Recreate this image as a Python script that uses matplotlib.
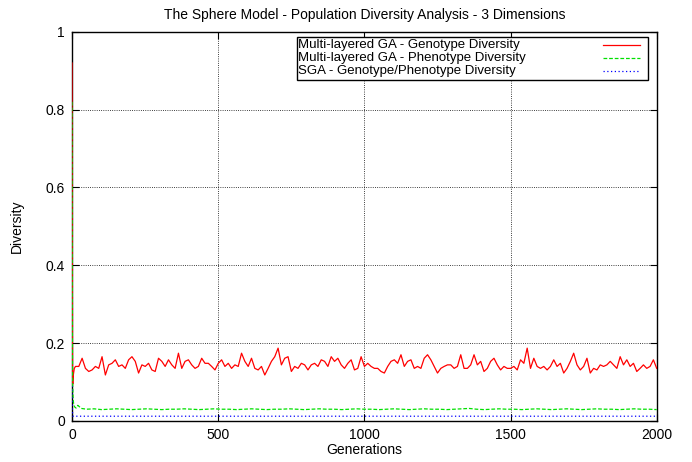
import numpy as np
import matplotlib
matplotlib.use("Agg")
import matplotlib.pyplot as plt
from matplotlib.patches import Rectangle

plt.rcParams['font.family'] = ['Liberation Sans', 'DejaVu Sans']

# ---- data ----
# first generations (the initial drop)
red_early_gen = [0, 1, 2, 3, 5, 8]
red_early = [0.92, 0.45, 0.10, 0.095, 0.12, 0.135]

# Multi-layered GA genotype diversity, sampled every ~11 generations from gen 12
red_vals = [
    0.140, 0.140, 0.161, 0.135, 0.127, 0.131, 0.140, 0.135, 0.165, 0.118, 0.144, 0.148, 0.157, 0.140, 0.144,
    0.135, 0.157, 0.165, 0.153, 0.123, 0.144, 0.140, 0.148, 0.131, 0.127, 0.161, 0.153, 0.140, 0.157, 0.144,
    0.135, 0.174, 0.135, 0.153, 0.157, 0.144, 0.135, 0.140, 0.161, 0.148, 0.148, 0.140, 0.131, 0.148,
    0.157, 0.140, 0.148, 0.135, 0.144, 0.140, 0.174, 0.153, 0.140, 0.161, 0.135, 0.131, 0.140, 0.118, 0.135,
    0.153, 0.165, 0.187, 0.144, 0.161, 0.165, 0.127, 0.140, 0.135, 0.148, 0.144, 0.131, 0.144, 0.148, 0.140,
    0.157, 0.153, 0.140, 0.165, 0.153, 0.161, 0.144, 0.135, 0.148, 0.157, 0.131, 0.135, 0.165, 0.140,
    0.148, 0.140, 0.135, 0.135, 0.127, 0.123, 0.140, 0.153, 0.157, 0.148, 0.170, 0.140, 0.153, 0.157, 0.135,
    0.140, 0.135, 0.161, 0.170, 0.157, 0.140, 0.123, 0.135, 0.140, 0.144, 0.144, 0.135, 0.140, 0.170, 0.135,
    0.135, 0.144, 0.170, 0.144, 0.153, 0.127, 0.135, 0.153, 0.161, 0.144, 0.131, 0.140, 0.135, 0.135,
    0.140, 0.131, 0.157, 0.148, 0.187, 0.135, 0.161, 0.140, 0.135, 0.140, 0.131, 0.140, 0.157, 0.140, 0.148,
    0.123, 0.135, 0.153, 0.174, 0.144, 0.131, 0.140, 0.161, 0.123, 0.135, 0.131, 0.144, 0.140, 0.144, 0.153,
    0.144, 0.135, 0.165, 0.144, 0.157, 0.140, 0.148, 0.127, 0.135, 0.144, 0.135, 0.140, 0.157, 0.135,
]

# Multi-layered GA phenotype diversity
green_early_gen = [0, 1, 2, 4, 6, 9, 14, 20, 26, 32]
green_early = [0.82, 0.30, 0.10, 0.055, 0.042, 0.036, 0.033, 0.040, 0.036, 0.032]
# sampled every 25 generations from gen 50
green_vals = [
    0.030, 0.031, 0.029, 0.030, 0.031, 0.030, 0.029, 0.030, 0.031, 0.030,
    0.029, 0.030, 0.030, 0.031, 0.030, 0.029, 0.030, 0.031, 0.030, 0.030,
    0.029, 0.030, 0.031, 0.030, 0.029, 0.030, 0.030, 0.031, 0.030, 0.029,
    0.030, 0.031, 0.030, 0.030, 0.029, 0.030, 0.031, 0.030, 0.030, 0.029,
    0.030, 0.031, 0.030, 0.029, 0.030, 0.031, 0.030, 0.030, 0.029, 0.030,
    0.031, 0.032, 0.030, 0.029, 0.030, 0.031, 0.030, 0.030, 0.029, 0.030,
    0.031, 0.030, 0.029, 0.030, 0.031, 0.030, 0.029, 0.030, 0.031, 0.030,
    0.030, 0.029, 0.030, 0.031, 0.030, 0.030, 0.029,
]

# SGA genotype/phenotype diversity
blue_gen = [0, 1, 3, 2000]
blue_vals = [0.09, 0.03, 0.012, 0.012]

labels = ["Multi-layered GA - Genotype Diversity",
          "Multi-layered GA - Phenotype Diversity",
          "SGA - Genotype/Phenotype Diversity"]
colors = ["#ff0000", "#00e000", "#0000ff"]
styles = ["-", (0, (3, 1.5)), (0, (1, 2))]

red_gen = red_early_gen + list(np.linspace(12, 2000, len(red_vals)))
red = red_early + red_vals
green_gen = green_early_gen + list(np.linspace(50, 2000, len(green_vals)))
green = green_early + green_vals

# ---- plot ----
fig = plt.figure(figsize=(6.92, 4.62), dpi=100)
ax = fig.add_axes([0.104, 0.089, 0.845, 0.842])

# zorder above the spines so the spike at gen 0 stays visible
ax.plot(red_gen, red, color=colors[0], linestyle=styles[0], linewidth=0.9, zorder=3)
ax.plot(green_gen, green, color=colors[1], linestyle=styles[1], linewidth=0.9, zorder=3)
ax.plot(blue_gen, blue_vals, color=colors[2], linestyle=styles[2], linewidth=0.9, zorder=3)

ax.set_xlim(0, 2000)
ax.set_ylim(0, 1)
ax.set_xticks([0, 500, 1000, 1500, 2000])
ax.set_yticks([0, 0.2, 0.4, 0.6, 0.8, 1])
ax.set_yticklabels(["0", "0.2", "0.4", "0.6", "0.8", "1"])
ax.tick_params(direction="in", top=True, right=True, length=5, width=0.8, labelsize=10, pad=5)
ax.grid(True, linestyle=":", color="black", linewidth=0.6)
for s in ax.spines.values():
    s.set_linewidth(1.0)

ax.set_title("The Sphere Model - Population Diversity Analysis - 3 Dimensions", fontsize=10, pad=9)
ax.set_xlabel("Generations", fontsize=10, labelpad=1)
ax.set_ylabel("Diversity", fontsize=10, labelpad=16)

# gnuplot style key: text left aligned, samples on the right
ax.add_patch(Rectangle((0.385, 0.877), 0.600, 0.110, transform=ax.transAxes,
                       facecolor="white", edgecolor="black", linewidth=1.0, zorder=5))
rows_y = [0.966, 0.933, 0.900]
for lab, c, ls, yy in zip(labels, colors, styles, rows_y):
    ax.text(0.387, yy, lab, transform=ax.transAxes, fontsize=9.5, va="center", ha="left", zorder=6)
    ax.plot([0.908, 0.971], [yy, yy], transform=ax.transAxes, color=c, linestyle=ls,
            linewidth=0.9, zorder=6, clip_on=False)

fig.savefig("out.png", dpi=100)
